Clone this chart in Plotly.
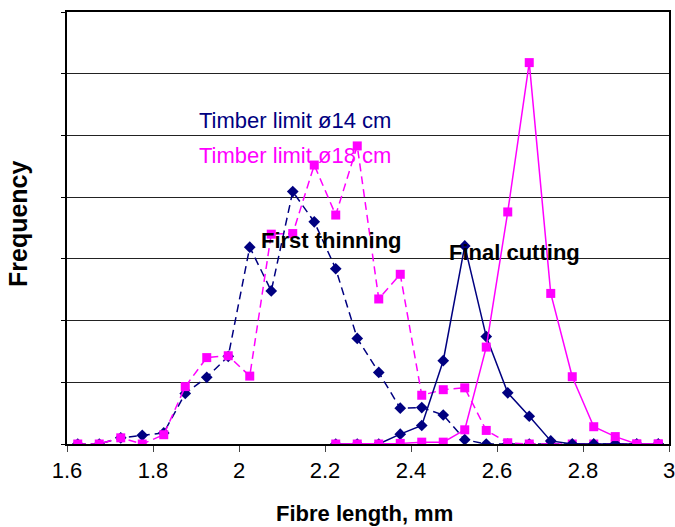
import plotly.graph_objects as go

# Fibre length class midpoints (mm)
x_thin = [1.625, 1.675, 1.725, 1.775, 1.825, 1.875, 1.925, 1.975, 2.025, 2.075,
          2.125, 2.175, 2.225, 2.275, 2.325, 2.375, 2.425, 2.475, 2.525, 2.575,
          2.625, 2.675, 2.725, 2.775, 2.825, 2.875, 2.925, 2.975]
thin_14 = [0, 0, 0.10, 0.14, 0.18, 0.82, 1.08, 1.42, 3.19, 2.48,
           4.09, 3.60, 2.84, 1.71, 1.16, 0.58, 0.59, 0.47, 0.07, 0,
           0, 0, 0, 0, 0, 0, 0, 0]
thin_18 = [0, 0, 0.10, 0, 0.15, 0.93, 1.40, 1.43, 1.10, 3.40,
           3.41, 4.52, 3.71, 4.83, 2.35, 2.75, 0.79, 0.88, 0.91, 0.22,
           0.02, 0, 0, 0, 0, 0, 0, 0]

x_final = [2.225, 2.275, 2.325, 2.375, 2.425, 2.475, 2.525, 2.575, 2.625, 2.675,
           2.725, 2.775, 2.825, 2.875, 2.925, 2.975]
final_14 = [0, 0, 0, 0.16, 0.30, 1.35, 3.21, 1.74, 0.83, 0.45,
            0.05, 0, 0, 0, 0, 0]
final_18 = [0, 0, 0, 0.01, 0.03, 0.03, 0.23, 1.57, 3.76, 6.18,
            2.44, 1.09, 0.28, 0.12, 0, 0]

x_ticks = [1.6, 1.8, 2.0, 2.2, 2.4, 2.6, 2.8, 3.0]
x_tick_labels = ["1.6", "1.8", "2", "2.2", "2.4", "2.6", "2.8", "3"]

NAVY = "#000080"
MAGENTA = "#FF00FF"
FONT = "Arial, Liberation Sans, sans-serif"

fig = go.Figure()
fig.add_trace(go.Scatter(x=x_thin, y=thin_14, mode="lines+markers",
                         line=dict(color=NAVY, width=1.5, dash="8px,5px"),
                         marker=dict(symbol="diamond", size=9, color=NAVY),
                         name="First thinning ø14", showlegend=False))
fig.add_trace(go.Scatter(x=x_thin, y=thin_18, mode="lines+markers",
                         line=dict(color=MAGENTA, width=1.5, dash="8px,5px"),
                         marker=dict(symbol="square", size=9, color=MAGENTA),
                         name="First thinning ø18", showlegend=False))
fig.add_trace(go.Scatter(x=x_final, y=final_14, mode="lines+markers",
                         line=dict(color=NAVY, width=1.5),
                         marker=dict(symbol="diamond", size=9, color=NAVY),
                         name="Final cutting ø14", showlegend=False))
fig.add_trace(go.Scatter(x=x_final, y=final_18, mode="lines+markers",
                         line=dict(color=MAGENTA, width=1.5),
                         marker=dict(symbol="square", size=9, color=MAGENTA),
                         name="Final cutting ø18", showlegend=False))

annots = [
    dict(x=1.902, y=5.25, text="Timber limit ø14 cm", font=dict(color=NAVY, size=22)),
    dict(x=1.902, y=4.68, text="Timber limit ø18 cm", font=dict(color=MAGENTA, size=22)),
    dict(x=2.046, y=3.29, text="<b>First thinning</b>", font=dict(color="black", size=22)),
    dict(x=2.484, y=3.11, text="<b>Final cutting</b>", font=dict(color="black", size=22)),
]
for a in annots:
    fig.add_annotation(xref="x", yref="y", xanchor="left", yanchor="middle",
                       showarrow=False, **a)

# axis titles placed as paper annotations
fig.add_annotation(xref="paper", yref="paper", x=(364 - 67) / 602, y=-(513 - 444) / 432,
                   xanchor="center", yanchor="middle", showarrow=False,
                   text="<b>Fibre length, mm</b>", font=dict(size=22, color="black"))
fig.add_annotation(xref="paper", yref="paper", x=-(67 - 18) / 602, y=(444 - 224) / 432,
                   xanchor="center", yanchor="middle", showarrow=False, textangle=-90,
                   text="<b>Frequency</b>", font=dict(size=25, color="black"))

fig.update_layout(
    width=675, height=527,
    margin=dict(l=67, r=6, t=12, b=83, autoexpand=False),
    paper_bgcolor="white", plot_bgcolor="white",
    font=dict(family=FONT, color="black"),
    xaxis=dict(range=[1.6, 3.0], tickvals=x_ticks, ticktext=x_tick_labels,
               tickfont=dict(size=22), ticks="outside", ticklen=6, tickcolor="#444",
               ticklabeloverflow="allow",
               showgrid=False, zeroline=False, showline=True, linecolor="black",
               linewidth=1.5, mirror=True, automargin=False),
    yaxis=dict(range=[0, 7], dtick=1, showticklabels=False, ticks="outside",
               ticklen=4, tickcolor="black",
               showgrid=True, gridcolor="#222", gridwidth=1, zeroline=False,
               showline=True, linecolor="black", linewidth=1.5, mirror=True,
               automargin=False),
)

fig.write_html("out.html", config={"displayModeBar": False},
               post_script="document.body.style.margin='0px';document.body.style.overflow='hidden';")
